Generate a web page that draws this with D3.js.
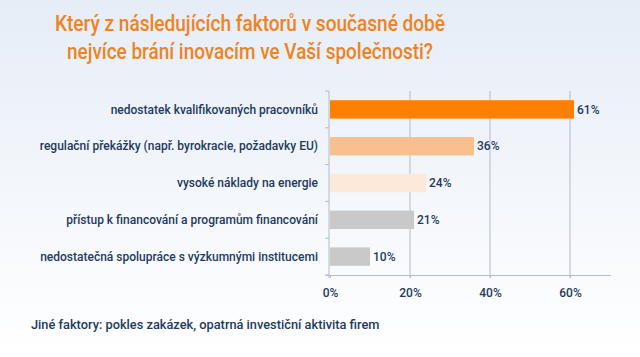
<!DOCTYPE html>
<html><head><meta charset="utf-8">
<script src="https://cdn.jsdelivr.net/npm/d3@7"></script>
<style>
html,body{margin:0;padding:0;}
svg{display:block;}
</style>
</head><body>
<svg id="c" width="640" height="357"></svg>
<script>
const categories = [
  "nedostatek kvalifikovaných pracovníků",
  "regulační překážky (např. byrokracie, požadavky EU)",
  "vysoké náklady na energie",
  "přístup k financování a programům financování",
  "nedostatečná spolupráce s výzkumnými institucemi"
];
const values = [61, 36, 24, 21, 10];
const barColors = ["#FF7F00", "#F9BF8F", "#FDE9D9", "#C9C9C9", "#C9C9C9"];
const xTicks = [0, 20, 40, 60];
const titleLines = ["Který z následujících faktorů v současné době", "nejvíce brání inovacím ve Vaší společnosti?"];
const footnote = "Jiné faktory: pokles zakázek, opatrná investiční aktivita firem";

const svg = d3.select("#c");
const W = 640, H = 357;
const defs = svg.append("defs");
const grad = defs.append("linearGradient").attr("id","bg").attr("x1",0).attr("y1",0).attr("x2",0).attr("y2",1);
grad.append("stop").attr("offset","0%").attr("stop-color","#E6EDF7");
grad.append("stop").attr("offset","100%").attr("stop-color","#FFFFFF");
svg.append("rect").attr("width",W).attr("height",H).attr("fill","url(#bg)");

const navy = "#1E3A5C";
const font = "Roboto, 'DejaVu Sans', sans-serif";

const titleWidths = [390, 366];
svg.append("g").selectAll("text").data(titleLines).join("text")
  .attr("x", 250).attr("y", (d,i)=>31 + i*28)
  .attr("text-anchor","middle")
  .attr("font-family", font).attr("font-weight", 500)
  .attr("font-size", 22.5).attr("fill", "#EE8322")
  .attr("textLength", (d,i)=>titleWidths[i]).attr("lengthAdjust","spacingAndGlyphs")
  .text(d=>d);

const x = d3.scaleLinear().domain([0, 70]).range([330, 610]);
const y = d3.scaleBand().domain(categories).range([91, 275]).paddingInner(0.5).paddingOuter(0.25);

// gridlines
svg.append("g").selectAll("line").data(xTicks.filter(t=>t>0)).join("line")
  .attr("x1", d=>x(d)).attr("x2", d=>x(d)).attr("y1", 91).attr("y2", 278)
  .attr("stroke", "#AFBCC9").attr("stroke-width", 1);

// bars
svg.append("g").selectAll("rect").data(values).join("rect")
  .attr("x", x(0)).attr("y", (d,i)=>y(categories[i]))
  .attr("width", d=>x(d)-x(0)).attr("height", y.bandwidth())
  .attr("fill", (d,i)=>barColors[i]);

// y axis
const yAxisG = svg.append("g").attr("transform", `translate(${x(0)-1},0)`);
yAxisG.append("line").attr("x1",0).attr("x2",0).attr("y1",91).attr("y2",278).attr("stroke","#AFBCC9");
const b = categories.map((c,i)=> y(c) - y.step()*y.paddingInner()/2 );
yAxisG.selectAll("line.t").data(b.concat([275])).join("line").attr("class","t")
  .attr("x1",-4).attr("x2",0).attr("y1",d=>d).attr("y2",d=>d).attr("stroke","#AFBCC9");

// category labels
svg.append("g").selectAll("text").data(categories).join("text")
  .attr("x", 318).attr("y", d=>y(d)+y.bandwidth()/2).attr("dy","0.35em")
  .attr("text-anchor","end").attr("font-family", font).attr("font-weight",500)
  .attr("font-size", 12).attr("fill", navy).text(d=>d);

// value labels
svg.append("g").selectAll("text").data(values).join("text")
  .attr("x", d=>x(d)+3).attr("y", (d,i)=>y(categories[i])+y.bandwidth()/2).attr("dy","0.35em")
  .attr("font-family", font).attr("font-weight",500)
  .attr("font-size", 12).attr("fill", navy).text(d=>d+"%");

// x axis
const xAxis = d3.axisBottom(x).tickValues(xTicks).tickFormat(d=>d+"%").tickSize(3).tickSizeOuter(0);
const xg = svg.append("g").attr("transform","translate(0,275)").call(xAxis);
xg.select(".domain").attr("d", "M326,0.5H611").attr("stroke","#AFBCC9");
xg.selectAll(".tick line").attr("stroke","#AFBCC9");
xg.selectAll(".tick text").attr("font-family", font).attr("font-weight",500)
  .attr("font-size",12).attr("fill",navy).attr("y",13);

svg.append("text").attr("x",31).attr("y",329)
  .attr("font-family", font).attr("font-weight",500)
  .attr("font-size",12.8).attr("fill",navy).text(footnote);
</script>
</body></html>
